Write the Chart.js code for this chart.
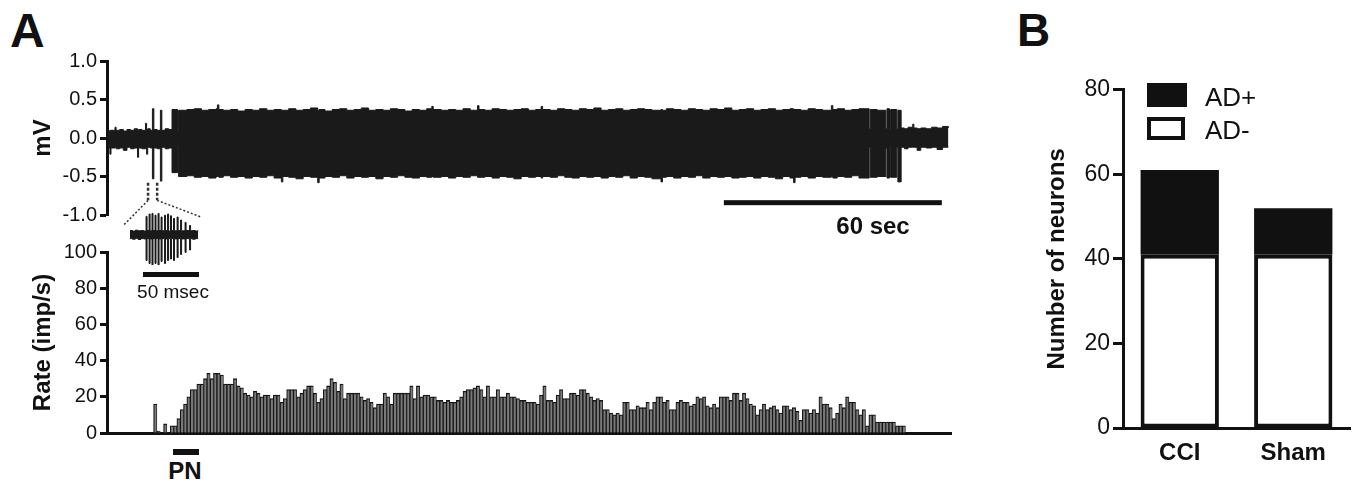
<!DOCTYPE html>
<html>
<head>
<meta charset="utf-8">
<script src="https://cdn.jsdelivr.net/npm/chart.js@4.4.1/dist/chart.umd.min.js"></script>
<style>
  html, body { margin: 0; padding: 0; background: #fff; }
  body { width: 1357px; height: 485px; position: relative; overflow: hidden;
         font-family: 'Liberation Sans', Arial, sans-serif; color: #111; }
  canvas { position: absolute; }
  .txt { position: absolute; line-height: 1; white-space: nowrap; }
  .blk { position: absolute; background: #111; }
</style>
</head>
<body>
<div class="txt" style="left:10px;top:7px;font-size:48px;font-weight:bold;">A</div>
<div class="txt" style="left:1017px;top:7px;font-size:46px;font-weight:bold;">B</div>

<canvas id="trace" width="952" height="184" style="left:0;top:46px"></canvas>
<canvas id="rate" width="952" height="211" style="left:0;top:237px"></canvas>
<canvas id="inset" width="74" height="60" style="left:128px;top:205px"></canvas>
<canvas id="counts" width="357" height="395" style="left:1000px;top:73px"></canvas>

<div class="txt" style="left:823px;top:214px;width:100px;text-align:center;font-size:24px;font-weight:bold;">60 sec</div>
<div class="blk" style="left:143px;top:272px;width:56px;height:5px"></div>
<div class="txt" style="left:123px;top:282px;width:100px;text-align:center;font-size:19px;">50 msec</div>
<div class="blk" style="left:173px;top:449px;width:26px;height:6px"></div>
<div class="txt" style="left:135px;top:459px;width:100px;text-align:center;font-size:24px;font-weight:bold;">PN</div>

<div class="blk" style="left:1147px;top:83px;width:40px;height:24px"></div>
<div style="position:absolute;left:1147px;top:117px;width:38px;height:23px;box-sizing:border-box;border:4px solid #111;background:#fff"></div>
<div class="txt" style="left:1205px;top:84px;font-size:26px;">AD+</div>
<div class="txt" style="left:1205px;top:117px;font-size:26px;">AD-</div>

<script>
// voltage trace envelope (time in s, upper / lower edge in mV)
const traceTime = [
  0.3, 0.8, 1.1, 2.2, 2.5, 3.5, 4.5, 5.5, 6.5, 7.5, 8.4, 8.7, 9.6, 10.6, 10.9, 11.2, 11.9, 12.5, 12.9, 13.8,
  14.7, 15.1, 16.0, 17.0, 17.9, 19.4,
  19.7, 22, 24, 26, 28, 30, 30.4, 30.8, 32, 34, 36, 38, 40, 42, 44, 46, 48, 48.4, 50, 52, 54, 56, 58, 58.4,
  60, 62, 64, 66, 68, 70, 72, 74, 76, 78, 80, 82, 84, 86, 88, 89.4, 89.8, 92, 94, 96, 98, 100, 102, 102.4,
  104, 106, 108, 110, 112, 114, 116, 118, 119.5, 119.9, 122, 124, 126, 128, 130, 132, 134, 136, 138, 140,
  142, 144, 146, 148, 150, 152.5, 152.9, 154, 156, 158, 160, 162, 164, 166, 168, 170, 172, 174, 176, 178,
  180, 182, 184, 186, 188, 189, 189.4, 191, 193, 195, 197, 199.4, 199.8, 201, 203, 205, 207, 209.8, 210.1,
  212, 214.4, 214.7, 215.4, 215.7, 217.4, 217.7, 218.6, 219.5, 220.5, 221.8, 222.1, 223, 224, 225.5, 227,
  228.5, 230, 231.6
];
const traceHigh = [
  0.09, 0.10, 0.10, 0.14, 0.10, 0.11, 0.09, 0.11, 0.10, 0.12, 0.10, 0.11, 0.10, 0.19, 0.11, 0.12, 0.10, 0.38, 0.11, 0.10,
  0.36, 0.10, 0.12, 0.11, 0.37, 0.10,
  0.36, 0.37, 0.38, 0.36, 0.37, 0.38, 0.43, 0.37, 0.36, 0.37, 0.35, 0.37, 0.36, 0.38, 0.36, 0.37, 0.36, 0.36, 0.38, 0.36, 0.37, 0.39, 0.36, 0.37,
  0.35, 0.37, 0.38, 0.36, 0.37, 0.39, 0.36, 0.37, 0.36, 0.38, 0.37, 0.35, 0.37, 0.36, 0.38, 0.41, 0.37, 0.36, 0.37, 0.36, 0.38, 0.36, 0.42, 0.37,
  0.36, 0.38, 0.37, 0.36, 0.37, 0.38, 0.36, 0.37, 0.41, 0.37, 0.36, 0.38, 0.37, 0.36, 0.38, 0.37, 0.39, 0.36, 0.37, 0.38,
  0.36, 0.37, 0.38, 0.37, 0.36, 0.37, 0.36, 0.38, 0.37, 0.36, 0.38, 0.37, 0.36, 0.38, 0.37, 0.39, 0.36, 0.37, 0.38, 0.36,
  0.37, 0.38, 0.36, 0.37, 0.38, 0.37, 0.37, 0.36, 0.38, 0.37, 0.36, 0.42, 0.37, 0.38, 0.36, 0.37, 0.38, 0.12, 0.37,
  0.36, 0.12, 0.38, 0.11, 0.37, 0.12, 0.36, 0.13, 0.12, 0.14, 0.18, 0.13, 0.12, 0.13, 0.12, 0.14,
  0.13, 0.15, 0.13
];
const traceLow = [
  -0.13, -0.21, -0.13, -0.12, -0.14, -0.13, -0.16, -0.12, -0.14, -0.13, -0.25, -0.13, -0.14, -0.13, -0.21, -0.12, -0.13, -0.53, -0.13, -0.14,
  -0.56, -0.12, -0.14, -0.13, -0.45, -0.12,
  -0.50, -0.49, -0.51, -0.50, -0.52, -0.50, -0.50, -0.51, -0.49, -0.51, -0.50, -0.52, -0.50, -0.51, -0.49, -0.52, -0.57, -0.50, -0.51, -0.53, -0.50, -0.51, -0.58, -0.52,
  -0.50, -0.51, -0.49, -0.52, -0.50, -0.51, -0.50, -0.53, -0.50, -0.51, -0.49, -0.51, -0.52, -0.50, -0.51, -0.50, -0.51, -0.50, -0.52, -0.50, -0.51, -0.49, -0.51, -0.51,
  -0.50, -0.52, -0.50, -0.51, -0.53, -0.50, -0.51, -0.50, -0.52, -0.50, -0.51, -0.49, -0.51, -0.52, -0.50, -0.51, -0.50, -0.52, -0.50, -0.51,
  -0.49, -0.52, -0.50, -0.51, -0.53, -0.57, -0.51, -0.50, -0.52, -0.50, -0.51, -0.49, -0.52, -0.50, -0.51, -0.50, -0.52, -0.51, -0.50, -0.52,
  -0.50, -0.51, -0.53, -0.50, -0.52, -0.58, -0.51, -0.50, -0.52, -0.50, -0.51, -0.50, -0.52, -0.50, -0.51, -0.49, -0.52, -0.12, -0.51,
  -0.50, -0.13, -0.52, -0.12, -0.51, -0.12, -0.57, -0.12, -0.14, -0.12, -0.12, -0.12, -0.16, -0.12, -0.13, -0.12,
  -0.15, -0.12, -0.12
];

// expanded burst in the inset (time in ms)
const insetTime = [1.8, 4, 6.5, 9, 11.5, 14, 16.1, 17.0, 18.8, 19.7, 21.4, 22.3, 24.1, 25.0, 26.8, 27.7,
  29.5, 30.4, 32.6, 33.5, 35.3, 36.2, 37.9, 38.8, 40.6, 41.5, 43.8, 44.7, 46.9, 47.8, 50.9, 51.8,
  54.9, 55.8, 57.5, 60, 62.5];
const insetHigh = [0.15, 0.13, 0.16, 0.14, 0.15, 0.13, 0.62, 0.15, 0.70, 0.14, 0.72, 0.15, 0.66, 0.14, 0.72, 0.15,
  0.60, 0.14, 0.66, 0.15, 0.70, 0.13, 0.64, 0.15, 0.55, 0.14, 0.60, 0.15, 0.50, 0.14, 0.42, 0.15,
  0.32, 0.14, 0.15, 0.13, 0.15];
const insetLow = [-0.12, -0.14, -0.11, -0.15, -0.12, -0.13, -0.85, -0.12, -0.95, -0.13, -1.0, -0.12, -0.95, -0.12, -1.0, -0.13,
  -0.88, -0.12, -0.95, -0.13, -0.85, -0.12, -0.80, -0.12, -0.85, -0.13, -0.75, -0.12, -0.65, -0.13, -0.58, -0.12,
  -0.50, -0.12, -0.14, -0.12, -0.12];

// firing rate histogram, one value per bin (imp/s)
const rateValues = [
  0, 0, 0, 0, 0, 0, 0, 0, 0, 0, 0, 0, 0, 0,
  16, 1, 0, 5, 0, 4, 4,
  8, 13, 16, 20, 24, 24, 27, 27, 30, 33, 30, 33, 33, 32, 27, 27, 27, 30, 26, 25, 22, 21, 20, 23, 22, 20, 21, 21, 19, 21,
  21, 17, 19, 24, 24, 24, 20, 22, 24, 26, 26, 22, 17, 19, 24, 26, 30, 28, 23, 27, 19, 22, 22, 22, 22, 20, 18, 19, 17, 14, 16, 16, 22, 20, 16, 22, 22, 22, 22,
  22, 26, 19, 26, 20, 21, 21, 20, 20, 18, 18, 17, 18, 17, 17, 18, 20, 23, 24, 24, 25, 26, 24, 20, 26, 20, 20, 24, 20, 20, 22, 20, 20, 19, 18, 18, 17, 17, 17,
  16, 21, 26, 18, 18, 17, 21, 24, 19, 19, 22, 22, 21, 24, 24, 22, 20, 18, 19, 18, 13, 13, 11, 10, 11, 10, 17, 17, 13, 13, 15, 14, 14, 17, 13, 17, 20, 20, 17,
  18, 13, 13, 17, 18, 17, 17, 15, 16, 20, 19, 20, 15, 14, 16, 14, 20, 20, 20, 18, 22, 22, 18, 22, 19, 16, 15, 10, 13, 16, 13, 14, 15, 13, 11, 15, 15, 13,
  14, 12, 7, 13, 13, 11, 13, 11, 20, 16, 16, 14, 8, 11, 16, 14, 20, 17, 17, 13, 10, 13, 4, 10, 10, 6, 6, 6, 6, 6, 6, 4, 4, 4,
  0, 0, 0, 0, 0, 0, 0, 0, 0, 0, 0, 0, 0, 0
];
const mvTicks = [-1, -0.5, 0, 0.5, 1];

// panel B
const groups = ['CCI', 'Sham'];
const adMinus = [41, 41];
const adPlus = [20, 11];

// annotations on the trace (seconds / mV)
const scaleBarStart = 169.8;
const zoomFrom = [11.3, 13.8];

Chart.defaults.font.family = "'Liberation Sans', Arial, sans-serif";
Chart.defaults.color = '#111';
Chart.defaults.animation = false;
Chart.defaults.plugins.legend.display = false;
Chart.defaults.plugins.tooltip.enabled = false;

const toPoints = (xs, ys) => xs.map((x, i) => ({ x: x, y: ys[i] }));

const traceMarks = {
    id: 'traceMarks',
    afterDraw(chart) {
        const { ctx, scales: { x, y } } = chart;
        ctx.save();
        ctx.fillStyle = '#111';
        const x0 = x.getPixelForValue(scaleBarStart);
        const x1 = x.getPixelForValue(scaleBarStart + 60);
        ctx.fillRect(x0, y.getPixelForValue(-0.84) - 2.5, x1 - x0, 5);

        ctx.strokeStyle = '#333';
        ctx.lineWidth = 2.5;
        ctx.setLineDash([3, 2]);
        zoomFrom.forEach(t => {
            ctx.beginPath();
            ctx.moveTo(x.getPixelForValue(t), y.getPixelForValue(-0.58));
            ctx.lineTo(x.getPixelForValue(t), y.getPixelForValue(-0.81));
            ctx.stroke();
        });
        ctx.lineWidth = 1.5;
        ctx.setLineDash([2, 2]);
        ctx.beginPath();
        ctx.moveTo(x.getPixelForValue(zoomFrom[0]), y.getPixelForValue(-0.81));
        ctx.lineTo(x.getPixelForValue(4.4), y.getPixelForValue(-1.14));
        ctx.moveTo(x.getPixelForValue(zoomFrom[1]), y.getPixelForValue(-0.81));
        ctx.lineTo(x.getPixelForValue(26.1), y.getPixelForValue(-1.03));
        ctx.stroke();
        ctx.restore();
    }
};

const leftAxis = (title, width, pad) => ({
    afterFit: s => { s.width = width; },
    ticks: { font: { size: 20 }, padding: 3 },
    grid: { drawOnChartArea: false, drawTicks: true, tickLength: 7, tickWidth: 3, tickColor: '#111' },
    border: { width: 3, color: '#111' },
    title: { display: true, text: title, font: { size: 24, weight: 'bold' }, padding: { top: pad, bottom: 0 } }
});

new Chart(document.getElementById('trace'), {
    type: 'line',
    data: {
        datasets: [
            { data: toPoints(traceTime, traceHigh), stepped: true, borderColor: '#1a1a1a', borderWidth: 1, pointRadius: 0, fill: false },
            { data: toPoints(traceTime, traceLow), stepped: true, borderColor: '#1a1a1a', borderWidth: 1, pointRadius: 0, fill: '-1', backgroundColor: '#1a1a1a' }
        ]
    },
    options: {
        responsive: false,
        layout: { padding: { top: 14, bottom: 14, left: 0, right: 0 } },
        scales: {
            x: { type: 'linear', min: 0, max: 232.6, display: false },
            y: Object.assign(leftAxis('mV', 107, 29), {
                min: -1, max: 1,
                afterBuildTicks: s => { s.ticks = mvTicks.map(v => ({ value: v })); },
                ticks: { font: { size: 20 }, padding: 3, callback: v => Number(v).toFixed(1) }
            })
        }
    },
    plugins: [traceMarks]
});

new Chart(document.getElementById('inset'), {
    type: 'line',
    data: {
        datasets: [
            { data: toPoints(insetTime, insetHigh), stepped: true, borderColor: '#1a1a1a', borderWidth: 1, pointRadius: 0, fill: false },
            { data: toPoints(insetTime, insetLow), stepped: true, borderColor: '#1a1a1a', borderWidth: 1, pointRadius: 0, fill: '-1', backgroundColor: '#1a1a1a' }
        ]
    },
    options: {
        responsive: false,
        layout: { padding: 0 },
        scales: {
            x: { type: 'linear', min: 0, max: 66, display: false },
            y: { min: -1, max: 1, display: false }
        }
    }
});

new Chart(document.getElementById('rate'), {
    type: 'bar',
    data: {
        labels: rateValues.map((v, i) => i),
        datasets: [{
            data: rateValues,
            backgroundColor: '#7a7a7a',
            borderColor: '#161616',
            borderWidth: { top: 1.3, left: 1.2, right: 0.8, bottom: 0 },
            barPercentage: 1,
            categoryPercentage: 1
        }]
    },
    options: {
        responsive: false,
        layout: { padding: { top: 14, bottom: 14, left: 0, right: 0 } },
        scales: {
            x: {
                afterFit: s => { s.height = 0; },
                ticks: { display: false },
                grid: { display: false, drawTicks: false },
                border: { display: true, width: 3, color: '#111' }
            },
            y: Object.assign(leftAxis('Rate (imp/s)', 107, 29), {
                min: 0, max: 100,
                ticks: { font: { size: 20 }, padding: 3, stepSize: 20 }
            })
        }
    }
});

new Chart(document.getElementById('counts'), {
    type: 'bar',
    data: {
        labels: groups,
        datasets: [
            { label: 'AD-', data: adMinus, backgroundColor: '#fff', borderColor: '#111', borderWidth: 4, borderSkipped: false, barPercentage: 0.69, categoryPercentage: 1 },
            { label: 'AD+', data: adPlus, backgroundColor: '#111', borderColor: '#111', borderWidth: 0, barPercentage: 0.69, categoryPercentage: 1 }
        ]
    },
    options: {
        responsive: false,
        layout: { padding: { top: 16, right: 7, bottom: 0, left: 0 } },
        scales: {
            x: {
                stacked: true,
                afterFit: s => { s.height = 40; },
                grid: { display: false, drawTicks: false },
                border: { display: true, width: 3, color: '#111' },
                ticks: { font: { size: 24, weight: 'bold' }, padding: 11 }
            },
            y: {
                stacked: true,
                min: 0, max: 80,
                afterFit: s => { s.width = 123; },
                ticks: { stepSize: 20, font: { size: 23 }, padding: 3 },
                grid: { drawOnChartArea: false, drawTicks: true, tickLength: 10, tickWidth: 3, tickColor: '#111' },
                border: { width: 3, color: '#111' },
                title: { display: true, text: 'Number of neurons', font: { size: 24, weight: 'bold' }, padding: { top: 43, bottom: 0 } }
            }
        }
    }
});
</script>
</body>
</html>
